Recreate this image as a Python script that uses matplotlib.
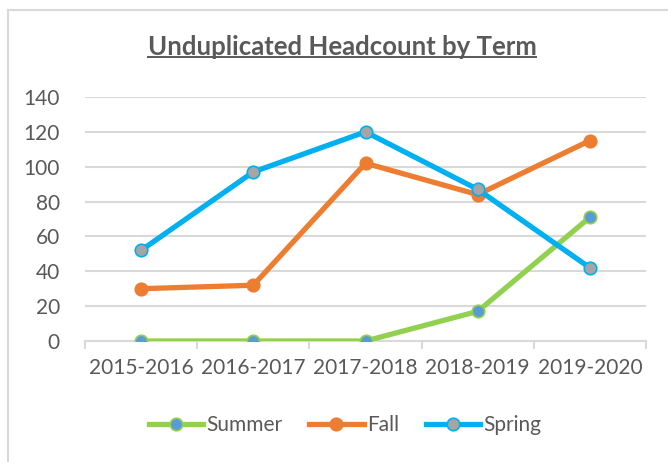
import matplotlib.pyplot as plt
import matplotlib
from matplotlib.lines import Line2D
from matplotlib.patches import Rectangle

matplotlib.rcParams['font.family'] = ['Lato', 'DejaVu Sans']

# data
terms = ["2015-2016", "2016-2017", "2017-2018", "2018-2019", "2019-2020"]
summer = [0, 0, 0, 17, 71]
fall = [30, 32, 102, 84, 115]
spring = [52, 97, 120, 87, 42]

txt_col = "#595959"
grid_col = "#D9D9D9"

fig = plt.figure(figsize=(6.68, 4.62), dpi=100)
ax = fig.add_axes([85/668, 1-341/462, (646-85)/668, (341-97)/462])

x = list(range(len(terms)))
lw = 3.8
ms = 9
ax.plot(x, summer, color="#92D050", lw=lw, marker="o", ms=ms,
        mfc="#5B9BD5", mec="#92D050", mew=1.2, label="Summer", zorder=3)
ax.plot(x, fall, color="#ED7D31", lw=lw, marker="o", ms=ms,
        mfc="#ED7D31", mec="#ED7D31", mew=1.2, label="Fall", zorder=3)
ax.plot(x, spring, color="#00B0F0", lw=lw, marker="o", ms=ms,
        mfc="#A5A5A5", mec="#00B0F0", mew=1.2, label="Spring", zorder=4)

ax.set_xlim(-0.5, len(terms) - 0.5)
ax.set_ylim(0, 140)
ax.set_yticks(range(0, 141, 20))
ax.yaxis.grid(True, color=grid_col, lw=1.5)
ax.set_axisbelow(True)

# excel style: tick marks between categories, labels at centres
ax.set_xticks([i - 0.5 for i in range(len(terms) + 1)])
ax.set_xticklabels([])
ax.set_xticks(x, minor=True)
ax.set_xticklabels(terms, minor=True)
ax.tick_params(axis="x", which="major", length=6, width=1.5, color=grid_col, direction="out")
ax.tick_params(axis="x", which="minor", length=0, pad=12, labelsize=15, labelcolor=txt_col)
ax.tick_params(axis="y", length=0, pad=18, labelsize=15, labelcolor=txt_col)

for s in ["top", "right", "left"]:
    ax.spines[s].set_visible(False)
ax.spines["bottom"].set_color(grid_col)
ax.spines["bottom"].set_linewidth(1.5)
ax.spines["bottom"].set_zorder(2)

# title with underline
title = fig.text(342/668, 1-47/462, "Unduplicated Headcount by Term", ha="center", va="center",
                 fontsize=18.5, fontweight="bold", color=txt_col)
fig.canvas.draw()
bb = title.get_window_extent().transformed(fig.transFigure.inverted())
fig.add_artist(Line2D([bb.x0, bb.x1], [bb.y0 + 0.004, bb.y0 + 0.004], color=txt_col, lw=1.4,
                      transform=fig.transFigure))

leg = fig.legend(loc="center", bbox_to_anchor=(345/668, 1-425/462), ncol=3, frameon=False,
                 fontsize=15, labelcolor=txt_col, handlelength=2.6, handletextpad=0.15,
                 columnspacing=1.3)

# chart border
fig.add_artist(Rectangle((8/668, -0.05), 1.1, 1-10/462+0.05, transform=fig.transFigure,
                         fill=False, ec=grid_col, lw=1.5))

fig.savefig("out.png", dpi=100)
